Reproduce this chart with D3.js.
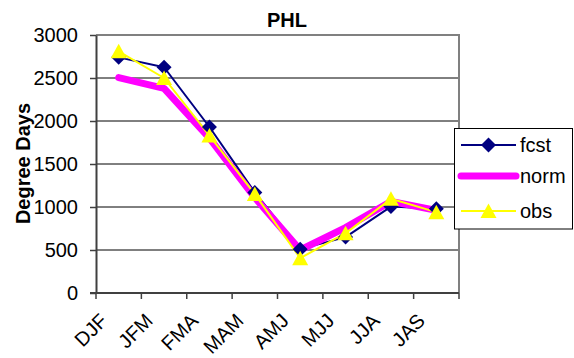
<!DOCTYPE html>
<html>
<head>
<meta charset="utf-8">
<script src="https://cdn.jsdelivr.net/npm/d3@7"></script>
<style>
  html, body { margin: 0; padding: 0; background: #fff; }
  svg { display: block; font-family: "Liberation Sans", Arial, sans-serif; }
</style>
</head>
<body>
<svg id="chart" width="574" height="358"></svg>
<script>
// Seasonal heating degree days, three-month running seasons
const seasons = ["DJF", "JFM", "FMA", "MAM", "AMJ", "MJJ", "JJA", "JAS"];
const fcst = [2740, 2625, 1930, 1170, 510, 650, 1005, 980];
const norm = [2505, 2380, 1800, 1110, 500, 760, 1065, 960];
const obs  = [2810, 2500, 1830, 1150, 405, 695, 1095, 940];
const yTicks = [0, 500, 1000, 1500, 2000, 2500, 3000];
const seriesNames = ["fcst", "norm", "obs"];

const svg = d3.select("#chart");
const plot = { left: 96, right: 459, top: 35, bottom: 293 };

const x = d3.scaleBand().domain(seasons).range([plot.left, plot.right]).padding(0);
const y = d3.scaleLinear().domain([0, 3000]).range([plot.bottom, plot.top]);
const cx = d => x(d) + x.bandwidth() / 2;

// Horizontal gridlines
svg.append("g")
  .selectAll("line")
  .data(yTicks.filter(t => t > 0))
  .join("line")
  .attr("x1", plot.left).attr("x2", plot.right)
  .attr("y1", d => y(d)).attr("y2", d => y(d))
  .attr("stroke", "#000").attr("stroke-width", 1);

// Plot frame (top and right edges)
svg.append("path")
  .attr("d", `M${plot.left},${plot.top}H${plot.right}V${plot.bottom}`)
  .attr("fill", "none").attr("stroke", "#808080").attr("stroke-width", 2);

// Y axis
const yAxis = svg.append("g")
  .attr("transform", `translate(${plot.left},0)`)
  .call(d3.axisLeft(y).tickValues(yTicks).tickFormat(d3.format("d"))
    .tickSize(6).tickPadding(12).tickSizeOuter(0));
yAxis.attr("font-size", 20).attr("font-family", "Liberation Sans, Arial, sans-serif");
yAxis.select(".domain").attr("stroke", "#404040").attr("stroke-width", 2);
yAxis.selectAll(".tick line").attr("stroke", "#404040").attr("stroke-width", 1.5);
yAxis.selectAll(".tick text").attr("fill", "#000");

// X axis: ticks at category boundaries
const boundaries = seasons.map(s => x(s)).concat([plot.right]);
svg.append("line")
  .attr("x1", plot.left - 6).attr("x2", plot.right)
  .attr("y1", plot.bottom).attr("y2", plot.bottom)
  .attr("stroke", "#404040").attr("stroke-width", 2);
svg.append("g").selectAll("line")
  .data(boundaries)
  .join("line")
  .attr("x1", d => d).attr("x2", d => d)
  .attr("y1", plot.bottom).attr("y2", plot.bottom + 6)
  .attr("stroke", "#404040").attr("stroke-width", 1.5);

svg.append("g").selectAll("text")
  .data(seasons)
  .join("text")
  .attr("transform", d => `translate(${cx(d) - 10},322) rotate(-45)`)
  .attr("text-anchor", "end")
  .attr("font-size", 20)
  .attr("fill", "#000")
  .text(d => d);

// Title and axis title
svg.append("text")
  .attr("x", 287).attr("y", 26.5)
  .attr("text-anchor", "middle")
  .attr("font-size", 20).attr("font-weight", "bold")
  .text("PHL");

svg.append("text")
  .attr("transform", "translate(29.5,163.5) rotate(-90)")
  .attr("text-anchor", "middle")
  .attr("font-size", 20).attr("font-weight", "bold")
  .text("Degree Days");

// Series lines
const line = d3.line().x((d, i) => cx(seasons[i])).y(d => y(d));
const series = [
  { name: "fcst", values: fcst, color: "#000080", width: 2 },
  { name: "norm", values: norm, color: "#FF00FF", width: 7 },
  { name: "obs",  values: obs,  color: "#FFFF00", width: 2 }
];
series.forEach(s => {
  svg.append("path")
    .datum(s.values)
    .attr("d", line)
    .attr("fill", "none")
    .attr("stroke", s.color)
    .attr("stroke-width", s.width)
    .attr("stroke-linejoin", "round")
    .attr("stroke-linecap", "round");
});

// Markers
const diamondPath = "M0,-7.5L7.5,0L0,7.5L-7.5,0Z";
const trianglePath = "M0,-7.5L8,7L-8,7Z";

svg.append("g").selectAll("path")
  .data(fcst)
  .join("path")
  .attr("transform", (d, i) => `translate(${cx(seasons[i])},${y(d)})`)
  .attr("d", diamondPath)
  .attr("fill", "#000080");

svg.append("g").selectAll("path")
  .data(obs)
  .join("path")
  .attr("transform", (d, i) => `translate(${cx(seasons[i])},${y(d)})`)
  .attr("d", trianglePath)
  .attr("fill", "#FFFF00");

// Legend
const legend = svg.append("g");
legend.append("rect")
  .attr("x", 454.5).attr("y", 128.5)
  .attr("width", 118).attr("height", 100.5)
  .attr("fill", "#fff").attr("stroke", "#000").attr("stroke-width", 1);

const legendY = [145, 176, 211];
series.forEach((s, i) => {
  const ly = legendY[i];
  legend.append("line")
    .attr("x1", 461).attr("x2", 516)
    .attr("y1", ly).attr("y2", ly)
    .attr("stroke", s.color).attr("stroke-width", s.width)
    .attr("stroke-linecap", s.name === "norm" ? "round" : "butt");
  if (s.name === "fcst") {
    legend.append("path").attr("transform", `translate(488.5,${ly})`)
      .attr("d", diamondPath).attr("fill", s.color);
  } else if (s.name === "obs") {
    legend.append("path").attr("transform", `translate(488.5,${ly})`)
      .attr("d", trianglePath).attr("fill", s.color);
  }
  legend.append("text")
    .attr("x", 520).attr("y", ly + 7)
    .attr("font-size", 20).attr("fill", "#000")
    .text(seriesNames[i]);
});
</script>
</body>
</html>
